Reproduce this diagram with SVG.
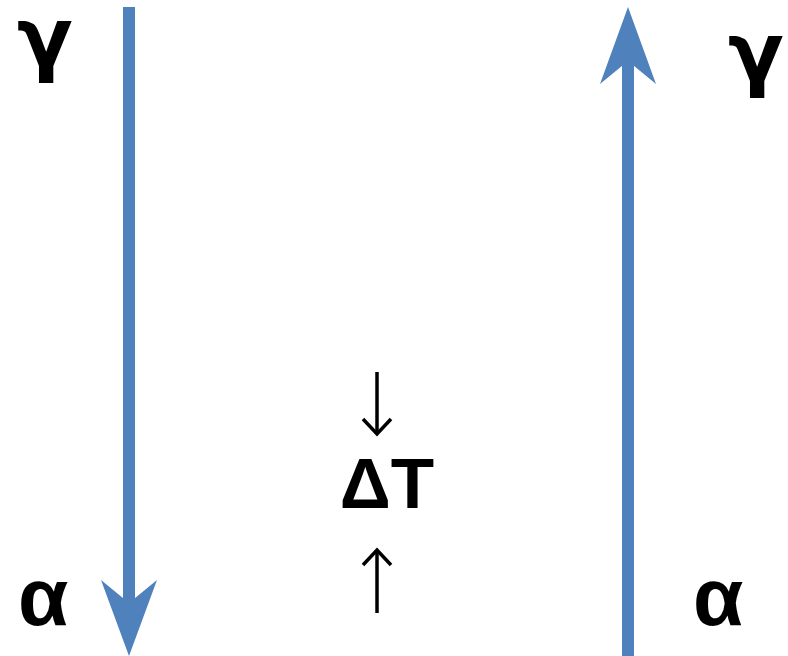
<svg xmlns="http://www.w3.org/2000/svg" width="788" height="656" viewBox="0 0 788 656">
  <style>
    .lbl { font-family: "Liberation Sans", Arial, sans-serif; font-weight: bold; fill: #000; }
    .gam { font-family: "DejaVu Sans", sans-serif; font-weight: bold; fill: #000; }
    .flow { stroke: #4F81BD; stroke-width: 12; fill: none; }
    .head { fill: #4F81BD; }
    .small { stroke: #000; stroke-width: 3.5; fill: none; }
  </style>
  <rect width="788" height="656" fill="#fff"/>
  <g id="connectors">
    <!-- cooling path: gamma to alpha -->
    <line class="flow" x1="129" y1="7" x2="129" y2="610"/>
    <path class="head" d="M101,580 L129,603 L157,580 L129,656 Z"/>
    <!-- heating path: alpha to gamma -->
    <line class="flow" x1="628" y1="656" x2="628" y2="55"/>
    <path class="head" d="M600,84 L628,61 L656,84 L628,7 Z"/>
    <!-- ΔT indicator arrows -->
    <line class="small" x1="377" y1="372" x2="377" y2="433"/>
    <polyline class="small" points="363,419 377,434 391,419"/>
    <line class="small" x1="377" y1="613" x2="377" y2="551"/>
    <polyline class="small" points="363,565 377,550 391,565"/>
  </g>
  <g id="gamma-left"><text class="gam" x="45" y="66" font-size="82" text-anchor="middle">γ</text></g>
  <g id="alpha-left"><text class="lbl" x="18" y="625" font-size="82">α</text></g>
  <g id="gamma-right"><text class="gam" x="756" y="81" font-size="82" text-anchor="middle">γ</text></g>
  <g id="alpha-right"><text class="lbl" x="693" y="625" font-size="82">α</text></g>
  <g id="delta-t"><text class="lbl" x="387" y="508" font-size="71" text-anchor="middle">ΔT</text></g>
</svg>
